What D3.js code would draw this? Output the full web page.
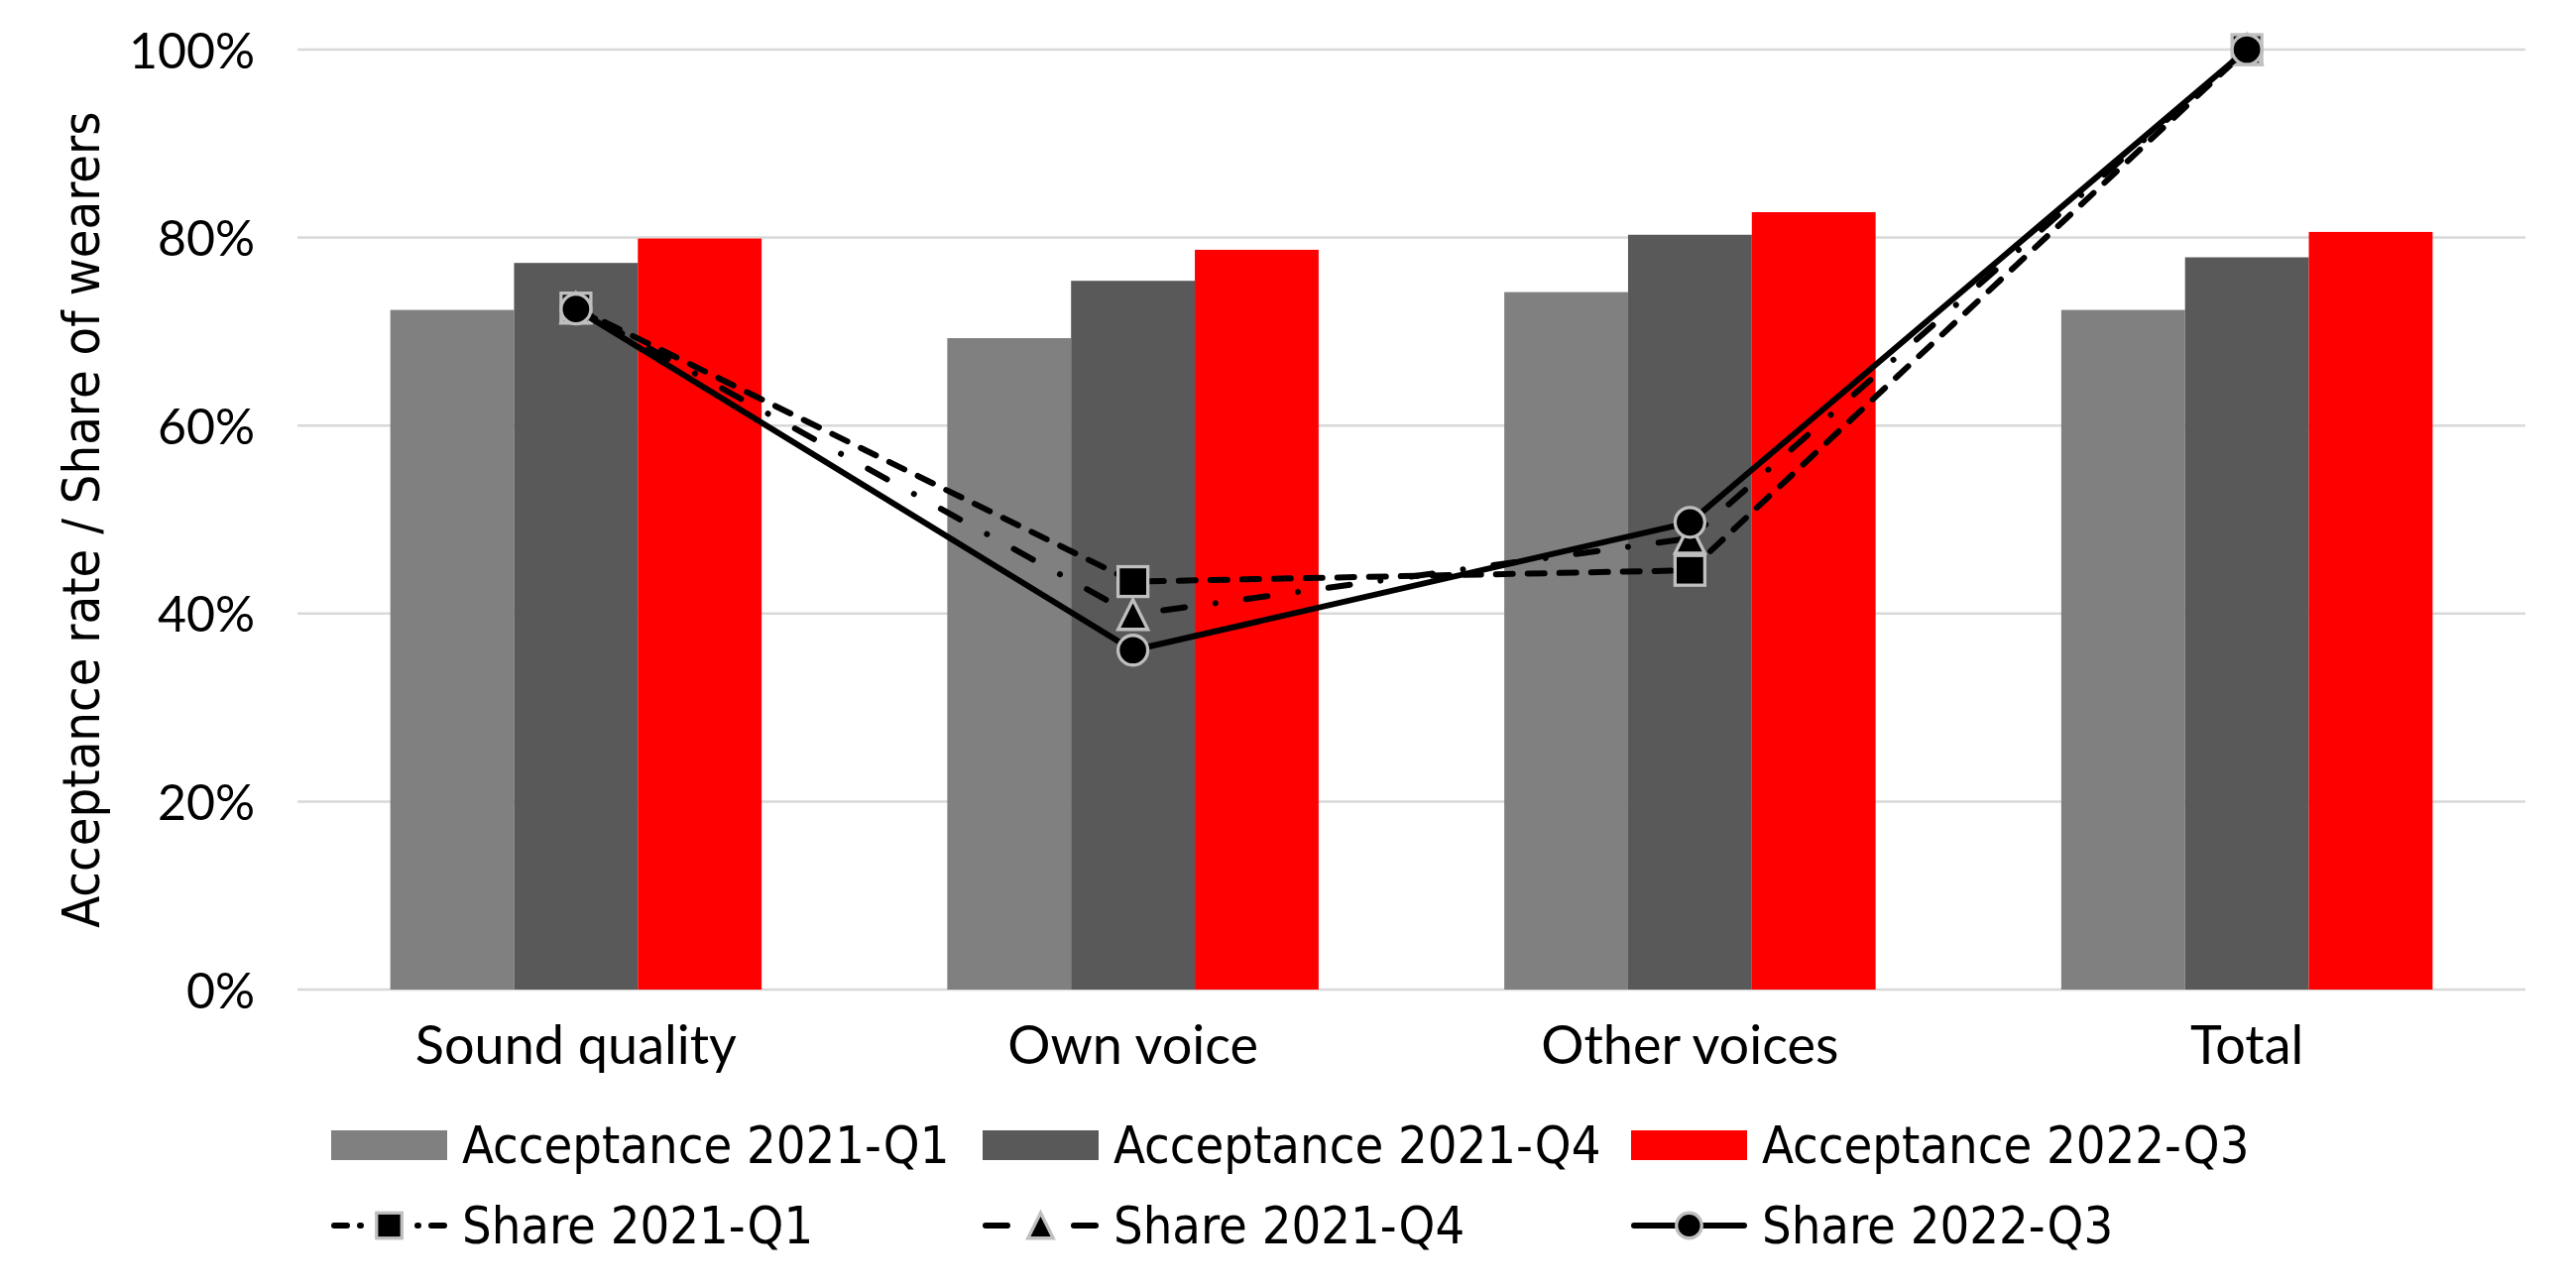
<!DOCTYPE html>
<html>
<head>
<meta charset="utf-8">
<script src="https://cdn.jsdelivr.net/npm/d3@7"></script>
<style>
  html, body { margin: 0; padding: 0; background: #fff; }
  svg { display: block; }
  .tick-label { font-family: Lato, "Open Sans", sans-serif; font-size: 50px; fill: #000; }
  .cat-label { font-family: Lato, "Open Sans", sans-serif; font-size: 54px; fill: #000; }
  .narrow { font-family: "Liberation Sans Narrow", "DejaVu Sans Condensed", "DejaVu Sans", sans-serif; font-stretch: condensed; font-size: 52px; fill: #000; }
</style>
</head>
<body>
<svg id="chart"></svg>
<script>
// data
const categories = ['Sound quality', 'Own voice', 'Other voices', 'Total']
const acceptance2021Q1 = [0.723, 0.693, 0.742, 0.723]
const acceptance2021Q4 = [0.773, 0.754, 0.803, 0.779]
const acceptance2022Q3 = [0.799, 0.787, 0.827, 0.806]
const share2021Q1 = [0.725, 0.434, 0.446, 1.0]
const share2021Q4 = [0.725, 0.399, 0.480, 1.0]
const share2022Q3 = [0.724, 0.361, 0.497, 1.0]
const yTicks = [0, 0.2, 0.4, 0.6, 0.8, 1.0]

const barSeries = [
  { name: 'Acceptance 2021-Q1', values: acceptance2021Q1, color: '#808080' },
  { name: 'Acceptance 2021-Q4', values: acceptance2021Q4, color: '#595959' },
  { name: 'Acceptance 2022-Q3', values: acceptance2022Q3, color: '#ff0000' }
]
const lineSeries = [
  { name: 'Share 2021-Q1', values: share2021Q1, dash: '17,15', legendDash: '13,13,1,57,1,13,13', marker: 'square' },
  { name: 'Share 2021-Q4', values: share2021Q4, dash: '22,31,0.01,31', legendDash: '22,67', marker: 'triangle' },
  { name: 'Share 2022-Q3', values: share2022Q3, dash: null, legendDash: null, marker: 'circle' }
]

const W = 2598, H = 1299
const plot = { left: 300, right: 2547, top: 50, bottom: 998 }

const svg = d3.select('#chart').attr('width', W).attr('height', H)

const x0 = d3.scaleBand().domain(categories).range([plot.left, plot.right]).padding(0)
const step = x0.bandwidth()
const groupW = step * 3 / 4.5   // gap width 150%
const x1 = d3.scaleBand().domain(barSeries.map(d => d.name)).range([(step - groupW) / 2, (step + groupW) / 2]).padding(0)
const y = d3.scaleLinear().domain([0, 1]).range([plot.bottom, plot.top])

// gridlines
svg.append('g').selectAll('line').data(yTicks).join('line')
  .attr('x1', plot.left).attr('x2', plot.right)
  .attr('y1', d => y(d)).attr('y2', d => y(d))
  .attr('stroke', '#d9d9d9').attr('stroke-width', 2.5)

// y axis labels
const yAxis = d3.axisLeft(y).tickValues(yTicks).tickFormat(d3.format('.0%')).tickSize(0).tickPadding(0)
const ya = svg.append('g').attr('transform', 'translate(257,0)').call(yAxis)
ya.select('.domain').remove()
ya.selectAll('text').attr('class', 'tick-label').attr('font-size', null).attr('font-family', null).attr('dy', '0.36em')

// y title
svg.append('text').attr('class', 'narrow')
  .attr('transform', `translate(100,${(plot.top + plot.bottom) / 2}) rotate(-90)`)
  .attr('text-anchor', 'middle')
  .text('Acceptance rate / Share of wearers')

// bars
const groups = svg.append('g').selectAll('g').data(categories).join('g')
  .attr('transform', d => `translate(${x0(d)},0)`)
groups.selectAll('rect')
  .data((c, i) => barSeries.map(s => ({ s, v: s.values[i] })))
  .join('rect')
  .attr('x', d => x1(d.s.name))
  .attr('width', x1.bandwidth())
  .attr('y', d => y(d.v))
  .attr('height', d => y(0) - y(d.v))
  .attr('fill', d => d.s.color)

// category labels
const xAxis = d3.axisBottom(x0).tickSize(0).tickPadding(0)
const xa = svg.append('g').attr('transform', `translate(0,${plot.bottom})`).call(xAxis)
xa.select('.domain').remove()
xa.selectAll('text').attr('class', 'cat-label').attr('font-size', null).attr('font-family', null)
  .attr('dy', null).attr('y', 75)

// marker drawing
function drawMarker(sel, type, k = 1) {
  const h = 15 * k
  if (type === 'square') {
    sel.append('rect').attr('x', -h).attr('y', -h).attr('width', 2 * h).attr('height', 2 * h)
  } else if (type === 'triangle') {
    sel.append('path').attr('d', `M0,${-h}L${h},${h}L${-h},${h}Z`)
  } else {
    sel.append('circle').attr('r', h)
  }
  sel.selectAll('*').attr('fill', '#000').attr('stroke', '#bfbfbf').attr('stroke-width', 3.3)
}

const cx = c => x0(c) + step / 2
const line = d3.line().x((d, i) => cx(categories[i])).y(d => y(d))

lineSeries.forEach(s => {
  const g = svg.append('g')
  g.append('path').datum(s.values).attr('d', line)
    .attr('fill', 'none').attr('stroke', '#000').attr('stroke-width', 6)
    .attr('stroke-linejoin', 'round').attr('stroke-linecap', 'round')
    .attr('stroke-dasharray', s.dash)
  s.values.forEach((v, i) => {
    g.append('g').attr('transform', `translate(${cx(categories[i])},${y(v)})`).call(drawMarker, s.marker)
  })
})

// legend
const legendCols = [334, 991, 1645]
const legendRows = [1155, 1236]
const swW = 117, swH = 30, textGap = 15

barSeries.forEach((s, i) => {
  const g = svg.append('g').attr('transform', `translate(${legendCols[i]},${legendRows[0]})`)
  g.append('rect').attr('x', 0).attr('y', -swH / 2).attr('width', swW).attr('height', swH).attr('fill', s.color)
  g.append('text').attr('class', 'narrow').attr('x', swW + textGap).attr('dy', '0.35em').text(s.name)
})
lineSeries.forEach((s, i) => {
  const g = svg.append('g').attr('transform', `translate(${legendCols[i]},${legendRows[1]})`)
  g.append('line').attr('x1', 3).attr('x2', swW - 3)
    .attr('stroke', '#000').attr('stroke-width', 6).attr('stroke-linecap', 'round')
    .attr('stroke-dasharray', s.legendDash)
  g.append('g').attr('transform', `translate(${swW / 2},0)`).call(drawMarker, s.marker, 0.85)
  g.append('text').attr('class', 'narrow').attr('x', swW + textGap).attr('dy', '0.35em').text(s.name)
})
</script>
</body>
</html>
